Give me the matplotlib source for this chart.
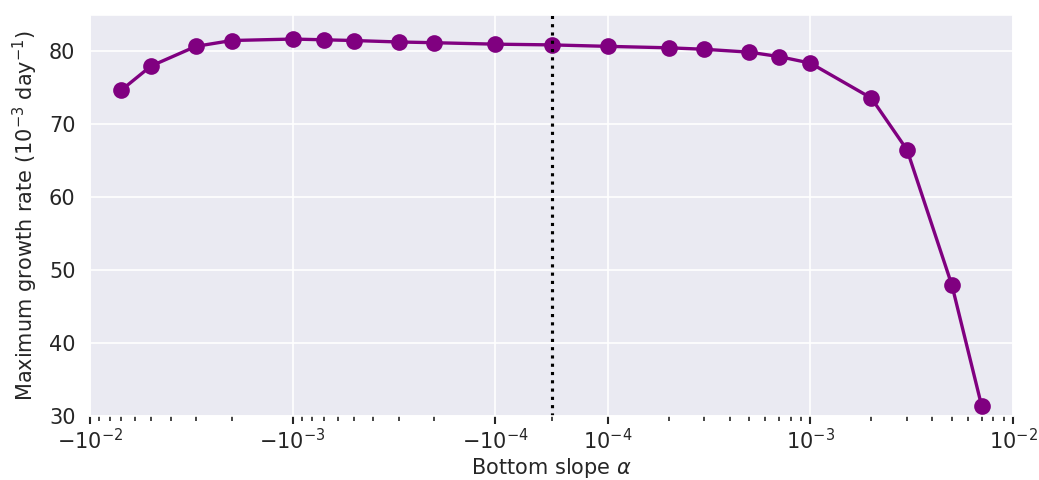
import numpy as np
import matplotlib
matplotlib.use("Agg")
import matplotlib.pyplot as plt
import matplotlib.ticker as mticker
import seaborn as sns

# pendiente del fondo y tasa maxima de crecimiento
alpha = [-7e-3, -5e-3, -3e-3, -2e-3, -1e-3, -7e-4, -5e-4, -3e-4, -2e-4, -1e-4,
         0.0, 1e-4, 2e-4, 3e-4, 5e-4, 7e-4, 1e-3, 2e-3, 3e-3, 5e-3, 7e-3]
growth = [74.7, 78.0, 80.7, 81.5, 81.7, 81.6, 81.5, 81.3, 81.2, 81.0,
          80.9, 80.7, 80.5, 80.3, 79.9, 79.3, 78.4, 73.6, 66.5, 47.9, 31.4]

sns.set_style("darkgrid")
plt.rcParams["font.family"] = ["DejaVu Sans"]

fig = plt.figure(figsize=(1039 / 150, 480 / 150), dpi=150)
ax = fig.add_axes([90 / 1039, 1 - 416 / 480, (1013 - 90) / 1039, (416 - 15) / 480])

ax.plot(alpha, growth, color="purple", marker="o", markersize=7, linewidth=1.6)
ax.axvline(0, color="black", linestyle=":", linewidth=1.5)

ax.set_xscale("symlog", linthresh=1e-4, linscale=0.25)
ax.set_xlim(-1e-2, 1e-2)
ax.set_ylim(30, 85)
ax.set_xticks([-1e-2, -1e-3, -1e-4, 1e-4, 1e-3, 1e-2])
ax.xaxis.set_minor_locator(mticker.SymmetricalLogLocator(linthresh=1e-4, base=10, subs=np.arange(2, 10)))
ax.tick_params(axis="x", which="major", bottom=True, length=4, width=1, color="#262626", labelsize=10, pad=2)
ax.tick_params(axis="x", which="minor", bottom=True, length=2.5, width=0.8, color="#262626")
ax.tick_params(axis="y", labelsize=10)

ax.set_xlabel(r"Bottom slope $\alpha$", fontsize=10, labelpad=1)
ax.set_ylabel(r"Maximum growth rate ($10^{-3}$ day$^{-1}$)", fontsize=10)

fig.savefig("out.png", dpi=150)
